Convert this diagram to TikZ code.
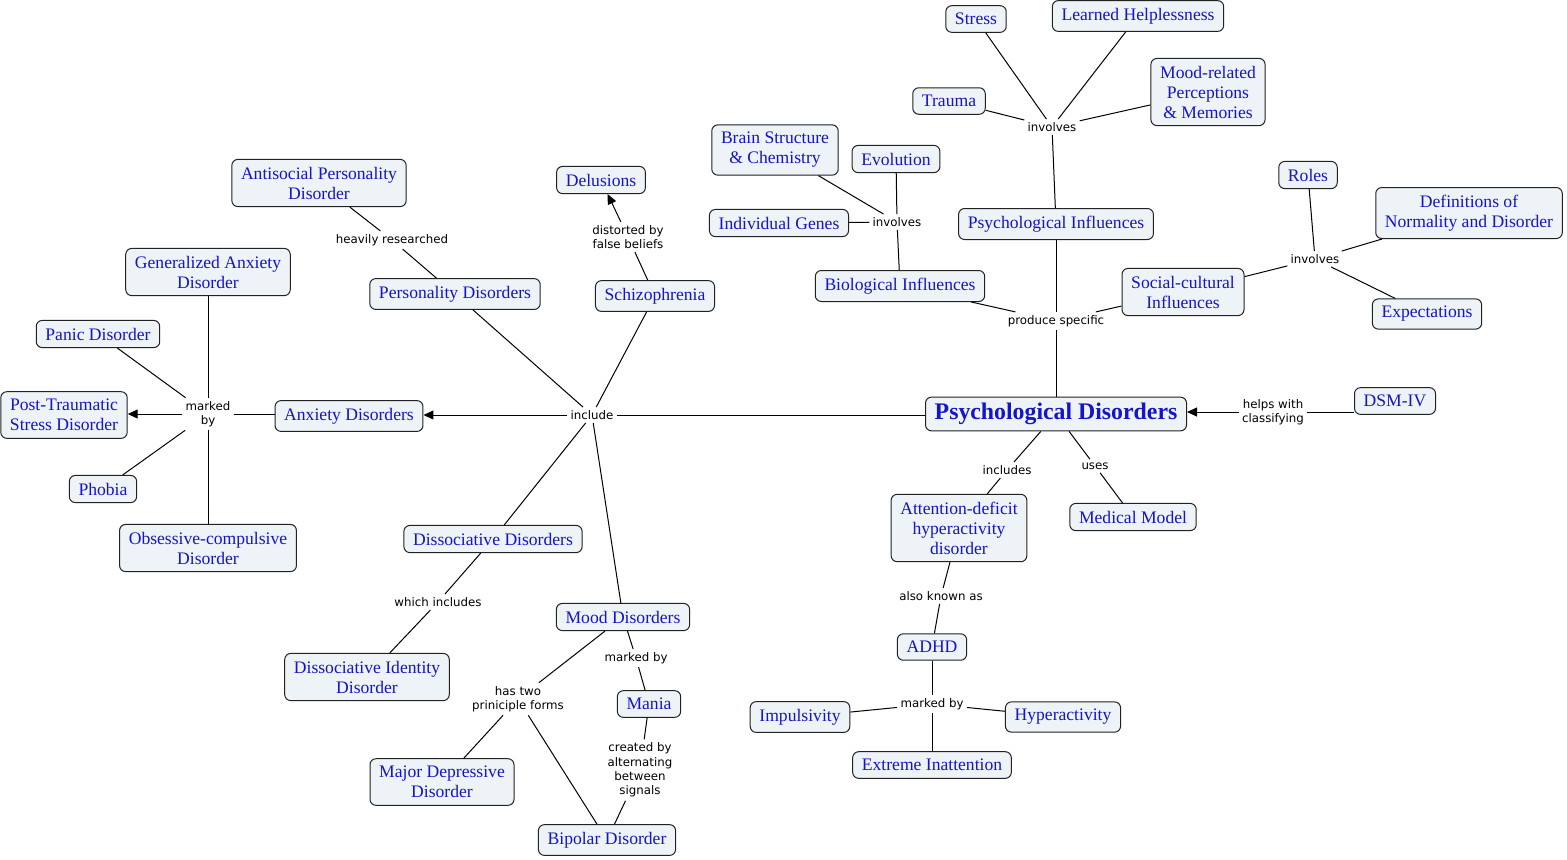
\documentclass[tikz,border=0pt]{standalone}
\usepackage{fontspec}
\setmainfont{Liberation Serif}
\newfontfamily\lblfont{DejaVu Sans}
\usetikzlibrary{arrows.meta}
\definecolor{cfill}{HTML}{EEF3F7}
\definecolor{ctext}{HTML}{1414C8}
\definecolor{cline}{HTML}{222222}
\tikzset{
  cnode/.style={draw=cline, line width=0.5pt, fill=cfill, rounded corners=3pt,
    text=ctext, align=center, inner xsep=4.6pt, inner ysep=3.7pt,
    font=\fontsize{8.8}{10}\selectfont},
  bignode/.style={cnode, font=\fontsize{11.9}{13}\selectfont\bfseries, inner ysep=3pt},
  lbl/.style={align=center, inner sep=1.5pt, text=black,
    font=\lblfont\fontsize{5.9}{7.2}\selectfont},
  conn/.style={draw=black, line width=0.5pt},
  arr/.style={conn, -{Triangle[length=5pt,width=4.5pt]}}
}
\begin{document}
\begin{tikzpicture}[x=0.5pt,y=-0.5pt]
\useasboundingbox (0,0) rectangle (1567,859);
% concepts
\node[cnode] (stress) at (976,19) {Stress};
\node[cnode] (helpless) at (1138,16) {Learned Helplessness};
\node[cnode] (trauma) at (949,101) {Trauma};
\node[cnode] (moodrel) at (1208,92) {Mood-related\\Perceptions\\\& Memories};
\node[cnode] (brain) at (775,150) {Brain Structure\\\& Chemistry};
\node[cnode] (evol) at (896,159) {Evolution};
\node[cnode] (genes) at (779,223) {Individual Genes};
\node[cnode] (psyinf) at (1056,224) {Psychological Influences};
\node[cnode] (bioinf) at (900,286) {Biological Influences};
\node[cnode] (social) at (1183,292) {Social-cultural\\Influences};
\node[cnode] (roles) at (1308,175) {Roles};
\node[cnode] (defs) at (1469,213) {Definitions of\\Normality and Disorder};
\node[cnode] (expect) at (1427,314) {Expectations};
\node[bignode] (psydis) at (1056,414) {Psychological Disorders};
\node[cnode] (dsm) at (1395,401) {DSM-IV};
\node[cnode] (adhdfull) at (959,528) {Attention-deficit\\hyperactivity\\disorder};
\node[cnode] (medical) at (1133,517) {Medical Model};
\node[cnode] (adhd) at (932,647) {ADHD};
\node[cnode] (impuls) at (800,717) {Impulsivity};
\node[cnode] (hyper) at (1063,717) {Hyperactivity};
\node[cnode] (extreme) at (932,765) {Extreme Inattention};
\node[cnode] (anxiety) at (349,416) {Anxiety Disorders};
\node[cnode] (gad) at (208,272) {Generalized Anxiety\\Disorder};
\node[cnode] (panic) at (98,334) {Panic Disorder};
\node[cnode] (ptsd) at (64,415) {Post-Traumatic\\Stress Disorder};
\node[cnode] (phobia) at (103,489) {Phobia};
\node[cnode] (ocd) at (208,548) {Obsessive-compulsive\\Disorder};
\node[cnode] (antisocial) at (319,183) {Antisocial Personality\\Disorder};
\node[cnode] (person) at (455,294) {Personality Disorders};
\node[cnode] (delus) at (601,180) {Delusions};
\node[cnode] (schizo) at (655,296) {Schizophrenia};
\node[cnode] (dissoc) at (493,539) {Dissociative Disorders};
\node[cnode] (did) at (367,677) {Dissociative Identity\\Disorder};
\node[cnode] (mood) at (623,617) {Mood Disorders};
\node[cnode] (mania) at (649,704) {Mania};
\node[cnode] (major) at (442,782) {Major Depressive\\Disorder};
\node[cnode] (bipolar) at (607,840) {Bipolar Disorder};
% linking phrases
\node[lbl] (inv1) at (1052,127) {involves};
\node[lbl] (inv2) at (897,222) {involves};
\node[lbl] (inv3) at (1315,259) {involves};
\node[lbl] (prod) at (1056,321) {produce specific};
\node[lbl] (helps) at (1273,412) {helps with\\classifying};
\node[lbl] (incs) at (1007,470) {includes};
\node[lbl] (uses) at (1095,466) {uses};
\node[lbl] (aka) at (941,596) {also known as};
\node[lbl] (mb3) at (932,704) {marked by};
\node[lbl] (incl) at (592,415) {include};
\node[lbl] (mb1) at (208,414) {marked\\by};
\node[lbl] (heavy) at (392,240) {heavily researched};
\node[lbl] (dist) at (628,237) {distorted by\\false beliefs};
\node[lbl] (which) at (438,602) {which includes};
\node[lbl] (mb2) at (636,658) {marked by};
\node[lbl] (hastwo) at (518,699) {has two\\priniciple forms};
\node[lbl] (created) at (640,770) {created by\\alternating\\between\\signals};
% connectors
\draw[conn] (stress) -- (inv1);
\draw[conn] (helpless) -- (inv1);
\draw[conn] (trauma) -- (inv1);
\draw[conn] (moodrel) -- (inv1);
\draw[conn] (inv1) -- (psyinf);
\draw[conn] (brain) -- (inv2);
\draw[conn] (evol) -- (inv2);
\draw[conn] (genes) -- (inv2);
\draw[conn] (inv2) -- (bioinf);
\draw[conn] (psydis) -- (prod);
\draw[conn] (prod) -- (psyinf);
\draw[conn] (prod) -- (bioinf);
\draw[conn] (prod) -- (social);
\draw[conn] (social) -- (inv3);
\draw[conn] (inv3) -- (roles);
\draw[conn] (inv3) -- (defs);
\draw[conn] (inv3) -- (expect);
\draw[conn] (dsm.west |- helps.east) -- (helps.east);
\draw[arr] (helps.west) -- (helps.west -| psydis.east);
\draw[conn] (psydis) -- (incs);
\draw[conn] (incs) -- (adhdfull);
\draw[conn] (psydis) -- (uses);
\draw[conn] (uses) -- (medical);
\draw[conn] (adhdfull) -- (aka);
\draw[conn] (aka) -- (adhd);
\draw[conn] (adhd) -- (mb3);
\draw[conn] (mb3) -- (impuls);
\draw[conn] (mb3) -- (hyper);
\draw[conn] (mb3) -- (extreme);
\draw[conn] (psydis.west |- incl.east) -- (incl.east);
\draw[arr] (incl.west) -- (incl.west -| anxiety.east);
\draw[conn] (incl) -- (person);
\draw[conn] (incl) -- (schizo);
\draw[conn] (incl) -- (dissoc);
\draw[conn] (incl) -- (mood);
\draw[conn] (anxiety.west |- mb1.east) -- (mb1.east);
\draw[arr] (mb1.west) -- (mb1.west -| ptsd.east);
\draw[conn] (mb1) -- (gad);
\draw[conn] (mb1) -- (panic);
\draw[conn] (mb1) -- (phobia);
\draw[conn] (mb1) -- (ocd);
\draw[conn] (person) -- (heavy);
\draw[conn] (heavy) -- (antisocial);
\draw[conn] (schizo) -- (dist);
\draw[arr] (dist) -- (delus);
\draw[conn] (dissoc) -- (which);
\draw[conn] (which) -- (did);
\draw[conn] (mood) -- (mb2);
\draw[conn] (mb2) -- (mania);
\draw[conn] (mood) -- (hastwo);
\draw[conn] (hastwo) -- (major);
\draw[conn] (hastwo) -- (bipolar);
\draw[conn] (mania) -- (created);
\draw[conn] (created) -- (bipolar);
\end{tikzpicture}
\end{document}
